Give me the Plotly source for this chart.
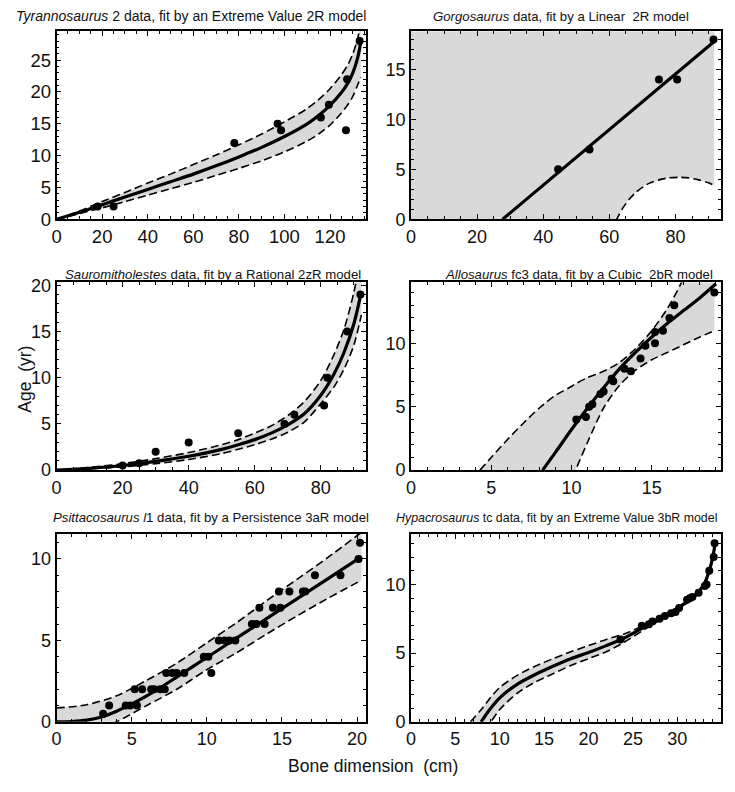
import plotly.graph_objects as go

# ---------------- Panel 1: Tyrannosaurus 2 ----------------
trex_x = [18, 25, 78, 97, 98.5, 116, 119.5, 127, 127.5, 133]
trex_age = [2, 2, 12, 15, 14, 16, 18, 14, 22, 28]
trex_fit_x = [0, 10, 20, 30, 40, 50, 60, 70, 80, 90, 100, 110, 115, 120, 125, 128, 130, 132, 133, 133.6]
trex_fit_age = [0, 1.1, 2.3, 3.5, 4.7, 5.9, 7.1, 8.4, 9.8, 11.3, 13.0, 15.0, 16.3, 17.9, 19.9, 21.5, 23.0, 25.2, 26.8, 28.0]
trex_band_x = [0, 10, 20, 30, 40, 50, 60, 70, 80, 90, 100, 110, 115, 120, 125, 128, 130, 132, 133.5]
trex_band_hi = [0, 1.3, 2.8, 4.2, 5.7, 7.1, 8.6, 10.1, 11.7, 13.4, 15.3, 17.4, 18.8, 20.5, 22.7, 24.4, 26.0, 28.2, 31.0]
trex_band_lo = [0, 0.9, 1.8, 2.8, 3.8, 4.8, 5.8, 6.9, 8.0, 9.2, 10.6, 12.3, 13.4, 14.8, 16.7, 18.1, 19.3, 21.0, 22.3]

# ---------------- Panel 2: Gorgosaurus ----------------
gorgo_x = [44.5, 54, 75, 80.5, 91.5]
gorgo_age = [5, 7, 14, 14, 18]
gorgo_fit_x = [27.7, 91.7]
gorgo_fit_age = [0, 17.8]
gorgo_band_x = [0, 10, 20, 30, 40, 50, 55, 60, 62.2, 64, 66, 68, 70, 72, 75, 78, 81, 84, 87, 90, 91.7]
gorgo_band_hi = [44, 36, 30, 26, 24, 23, 23, 23, 23.2, 23.4, 23.7, 24, 24.4, 24.8, 25.5, 26.3, 27.2, 28.2, 29.3, 30.6, 31.4]
gorgo_band_lo = [-60, -45, -32, -22, -14, -7.5, -4.5, -1.6, 0, 1.1, 2.0, 2.7, 3.2, 3.6, 3.95, 4.15, 4.2, 4.15, 3.95, 3.65, 3.4]

# ---------------- Panel 3: Sauromitholestes ----------------
sauro_x = [20, 25, 30, 40, 55, 69, 72, 81, 82, 88, 92]
sauro_age = [0.5, 0.75, 2, 3, 4, 5, 6, 7, 10, 15, 19]
sauro_fit_x = [0, 10, 20, 30, 40, 50, 55, 60, 65, 70, 75, 80, 84, 87, 90, 92.3]
sauro_fit_age = [0, 0.2, 0.5, 0.95, 1.5, 2.25, 2.75, 3.3, 4.0, 4.9, 6.1, 8.1, 10.4, 12.7, 15.8, 19.3]
sauro_band_x = [0, 10, 20, 30, 40, 50, 55, 60, 65, 70, 75, 80, 84, 87, 90, 92.3]
sauro_band_hi = [0, 0.3, 0.7, 1.25, 1.9, 2.75, 3.3, 4.0, 4.8, 5.9, 7.4, 9.7, 12.5, 15.2, 19.2, 23.5]
sauro_band_lo = [0, 0.15, 0.35, 0.7, 1.15, 1.8, 2.25, 2.75, 3.35, 4.1, 5.2, 7.2, 9.0, 10.9, 13.5, 16.8]

# ---------------- Panel 4: Allosaurus fc3 ----------------
allo_x = [10.3, 10.9, 11.1, 11.3, 11.8, 12.0, 12.5, 12.6, 13.3, 13.7, 14.3, 14.6, 15.2, 15.2, 15.7, 16.1, 16.4, 18.9]
allo_age = [4.0, 4.2, 5.0, 5.2, 6.0, 6.2, 7.2, 7.0, 8.0, 7.8, 8.8, 9.8, 10.0, 10.9, 11.0, 12.0, 13.0, 14.0]
allo_fit_x = [8.2, 9, 10, 11, 12, 13, 14, 15, 16, 17, 18, 19.0]
allo_fit_age = [0, 1.4, 3.2, 4.9, 6.5, 8.0, 9.3, 10.5, 11.6, 12.6, 13.6, 14.7]
allo_band_x = [4.3, 5, 6, 7, 8, 9, 10, 10.25, 11, 12, 13, 14, 15, 16, 17, 18, 18.9]
allo_band_hi = [0, 1.0, 2.4, 3.7, 4.9, 5.9, 6.6, 6.8, 7.3, 7.8, 8.5, 9.6, 11.0, 12.8, 15.2, 18.5, 22.0]
allo_band_lo = [-17, -14.6, -11.4, -8.4, -5.6, -3.0, -0.7, 0, 2.2, 4.9, 6.7, 7.9, 8.7, 9.3, 9.9, 10.5, 11.0]

# ---------------- Panel 5: Psittacosaurus l1 ----------------
psitt_x = [3.1, 3.5, 4.6, 4.9, 5.2, 5.35, 5.7, 6.3, 6.5, 6.9, 7.2, 7.3, 7.7, 8.0, 8.5, 9.8, 10.1, 10.3,
           10.8, 11.2, 11.5, 11.9, 13.0, 13.3, 13.5, 13.85, 14.4, 14.8, 14.9, 15.5, 16.4, 16.55, 17.2,
           18.9, 20.1, 20.2]
psitt_age = [0.5, 1, 1, 1, 2, 1, 2, 2, 2, 2, 2, 3, 3, 3, 3, 4, 4, 3,
             5, 5, 5, 5, 6, 6, 7, 6, 7, 8, 7, 8, 8, 8, 9,
             9, 10, 11]
psitt_fit_x = [0, 1, 2, 3, 4, 5, 6, 7, 8, 10, 12, 14, 16, 18, 20.3]
psitt_fit_age = [0, 0.02, 0.1, 0.3, 0.65, 1.1, 1.6, 2.15, 2.75, 3.95, 5.15, 6.35, 7.55, 8.75, 10.15]
psitt_band_x = [0, 2, 4, 6, 8, 10, 12, 14, 16, 18, 20.3]
psitt_band_hi = [0.85, 1.05, 1.6, 2.55, 3.6, 4.85, 6.1, 7.45, 8.75, 10.05, 11.65]
psitt_band_lo = [-1.5, -0.8, 0, 1.0, 2.0, 3.2, 4.25, 5.4, 6.5, 7.55, 8.7]

# ---------------- Panel 6: Hypacrosaurus tc ----------------
hyp_x = [23.6, 26.0, 26.8, 27.2, 28.0, 28.6, 29.3, 29.8, 30.2, 31.1, 31.4, 31.7, 32.4, 33.1, 33.3, 33.6, 34.1, 34.2]
hyp_age = [6.0, 7.0, 7.1, 7.3, 7.5, 7.7, 7.9, 8.0, 8.3, 8.9, 9.0, 9.1, 9.4, 9.9, 10.0, 11.0, 12.0, 13.0]
hyp_fit_x = [7.9, 9, 10, 12, 14, 16, 18, 20, 22, 24, 26, 28, 30, 31, 32, 33, 33.5, 34, 34.3]
hyp_fit_age = [0, 1.0, 1.75, 2.75, 3.45, 4.05, 4.6, 5.05, 5.55, 6.1, 6.8, 7.5, 8.25, 8.7, 9.2, 10.0, 10.8, 12.0, 13.2]
hyp_band_x = [6.7, 7.8, 9, 10, 12, 14, 16, 18, 20, 22, 24, 26, 28, 30, 32, 33, 34, 34.3]
hyp_band_hi = [0, 0.8, 1.8, 2.5, 3.4, 4.05, 4.6, 5.1, 5.55, 6.0, 6.4, 6.95, 7.6, 8.32, 9.28, 10.08, 12.1, 13.3]
hyp_band_lo = [-2.0, -0.9, 0.0, 0.9, 2.1, 2.9, 3.5, 4.1, 4.6, 5.1, 5.8, 6.6, 7.4, 8.18, 9.12, 9.92, 11.9, 13.1]

titles = [
    "<i>Tyrannosaurus</i> 2 data, fit by an Extreme Value 2R model",
    "<i>Gorgosaurus</i> data, fit by a Linear  2R model",
    "<i>Sauromitholestes</i> data, fit by a Rational 2zR model",
    "<i>Allosaurus</i> fc3 data, fit by a Cubic  2bR model",
    "<i>Psittacosaurus l</i>1 data, fit by a Persistence 3aR model",
    "<i>Hypacrosaurus</i> tc data, fit by an Extreme Value 3bR model",
]
x_label = "Bone dimension  (cm)"
y_label = "Age  (yr)"

panels = [
    dict(pts=(trex_x, trex_age), fit=(trex_fit_x, trex_fit_age), band=(trex_band_x, trex_band_hi, trex_band_lo),
         xr=[0, 135.8], yr=[0, 29.5], xd=20, xm=5, yd=5, ym=1),
    dict(pts=(gorgo_x, gorgo_age), fit=(gorgo_fit_x, gorgo_fit_age), band=(gorgo_band_x, gorgo_band_hi, gorgo_band_lo),
         xr=[0, 93.7], yr=[0, 18.8], xd=20, xm=5, yd=5, ym=1),
    dict(pts=(sauro_x, sauro_age), fit=(sauro_fit_x, sauro_fit_age), band=(sauro_band_x, sauro_band_hi, sauro_band_lo),
         xr=[0, 93.7], yr=[0, 20.3], xd=20, xm=5, yd=5, ym=1),
    dict(pts=(allo_x, allo_age), fit=(allo_fit_x, allo_fit_age), band=(allo_band_x, allo_band_hi, allo_band_lo),
         xr=[0, 19.3], yr=[0, 14.8], xd=5, xm=1, yd=5, ym=1),
    dict(pts=(psitt_x, psitt_age), fit=(psitt_fit_x, psitt_fit_age), band=(psitt_band_x, psitt_band_hi, psitt_band_lo),
         xr=[0, 20.6], yr=[0, 11.55], xd=5, xm=1, yd=5, ym=1),
    dict(pts=(hyp_x, hyp_age), fit=(hyp_fit_x, hyp_fit_age), band=(hyp_band_x, hyp_band_hi, hyp_band_lo),
         xr=[0, 34.9], yr=[0, 13.7], xd=5, xm=1, yd=5, ym=1),
]

W, H = 735, 792
col_px = [(52, 364), (409.3, 721.7)]
row_px = [(25, 217), (281.5, 473.3), (538.3, 730.5)]
title_cx = [188, 561, 210, 579, 207.5, 556]
title_cy = [9.5, 273, 522]
title_fs = [14, 13.2, 13.2, 13.2, 13.2, 12.4]

FONT = "Liberation Sans, Arial, sans-serif"
GRAY = "#d9d9d9"
TXT = "#111111"

fig = go.Figure()
annotations = []
for i, p in enumerate(panels):
    r, c = divmod(i, 2)
    xa = "x" if i == 0 else f"x{i+1}"
    ya = "y" if i == 0 else f"y{i+1}"
    bx, bhi, blo = p["band"]
    fig.add_trace(go.Scatter(x=bx, y=blo, xaxis=xa, yaxis=ya, mode="lines",
                             line=dict(color="black", width=1.6, dash="8px,4px", shape="spline", smoothing=0.8),
                             hoverinfo="skip"))
    fig.add_trace(go.Scatter(x=bx, y=bhi, xaxis=xa, yaxis=ya, mode="lines", fill="tonexty", fillcolor=GRAY,
                             line=dict(color="black", width=1.6, dash="8px,4px", shape="spline", smoothing=0.8),
                             hoverinfo="skip"))
    fx, fy = p["fit"]
    fig.add_trace(go.Scatter(x=fx, y=fy, xaxis=xa, yaxis=ya, mode="lines",
                             line=dict(color="black", width=3.2, shape="spline", smoothing=0.8)))
    px_, py_ = p["pts"]
    fig.add_trace(go.Scatter(x=px_, y=py_, xaxis=xa, yaxis=ya, mode="markers",
                             marker=dict(color="black", size=8), cliponaxis=False))

    x0, x1 = col_px[c]
    ytop, ybot = row_px[r]
    tfs = 18.5 if i == 0 else 18
    common = dict(showgrid=False, zeroline=False, showline=True, linecolor="black", linewidth=1.8,
                  mirror="allticks", ticks="inside", ticklen=5, tickwidth=1.3, tickcolor="black",
                  tickfont=dict(family=FONT, size=tfs, color=TXT), fixedrange=True, tick0=0,
                  layer="above traces")
    fig.layout[("xaxis" if i == 0 else f"xaxis{i+1}")] = dict(
        common, domain=[x0 / W, x1 / W], range=p["xr"], dtick=p["xd"], anchor=ya,
        minor=dict(ticks="inside", ticklen=3, tickwidth=1.1, tickcolor="black", dtick=p["xm"], tick0=0))
    fig.layout[("yaxis" if i == 0 else f"yaxis{i+1}")] = dict(
        common, domain=[1 - ybot / H, 1 - ytop / H], range=p["yr"], dtick=p["yd"], anchor=xa,
        minor=dict(ticks="inside", ticklen=3, tickwidth=1.1, tickcolor="black", dtick=p["ym"], tick0=0))

    annotations.append(dict(text=titles[i], x=title_cx[i] / W, y=1 - title_cy[r] / H, xref="paper", yref="paper",
                            showarrow=False, xanchor="center", yanchor="middle",
                            font=dict(family=FONT, size=title_fs[i], color=TXT)))

annotations.append(dict(text=y_label, x=20 / W, y=1 - 380 / H, xref="paper", yref="paper", showarrow=False,
                        textangle=-90, xanchor="center", yanchor="middle",
                        font=dict(family=FONT, size=17.5, color=TXT)))
annotations.append(dict(text=x_label, x=371.5 / W, y=1 - 776 / H, xref="paper", yref="paper", showarrow=False,
                        xanchor="center", yanchor="middle",
                        font=dict(family=FONT, size=17.5, color=TXT)))

fig.update_layout(width=W, height=H, margin=dict(l=0, r=0, t=0, b=0), showlegend=False,
                  plot_bgcolor="white", paper_bgcolor="white", annotations=annotations)

fig.write_html("out.html", config={"displayModeBar": False},
               post_script="document.body.style.margin='0';document.body.style.overflow='hidden';")
